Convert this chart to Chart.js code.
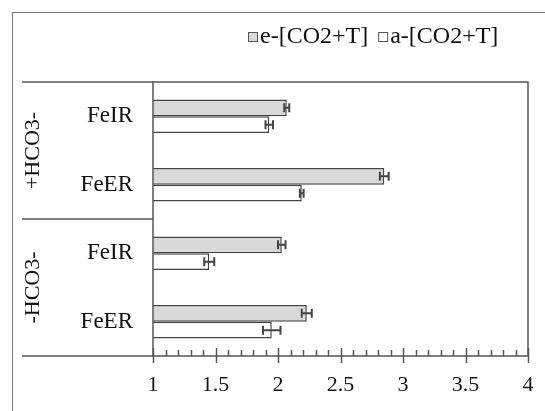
<!DOCTYPE html>
<html>
<head>
<meta charset="utf-8">
<script src="https://cdn.jsdelivr.net/npm/chart.js@4/dist/chart.umd.min.js"></script>
<style>
  html, body { margin: 0; padding: 0; background: #fff; }
  #wrap { width: 545px; height: 411px; }
</style>
</head>
<body>
<div id="wrap"><canvas id="myChart" width="545" height="411"></canvas></div>
<script>
  'use strict'

  // data
  const categories = ['FeIR', 'FeER', 'FeIR', 'FeER']
  const groups = ['+HCO3-', '-HCO3-']
  const seriesNames = ['e-[CO2+T]', 'a-[CO2+T]']
  const eValues = [2.07, 2.85, 2.03, 2.23]
  const eErrors = [0.02, 0.035, 0.03, 0.04]
  const aValues = [1.93, 2.19, 1.45, 1.95]
  const aErrors = [0.03, 0.015, 0.04, 0.07]
  const xTicks = [1, 1.5, 2, 2.5, 3, 3.5, 4]

  const lineColor = '#555'
  const serif = '"Liberation Serif", "Times New Roman", serif'

  // frame, axis ticks, group labels, legend, error bars
  const decor = {
    id: 'decor',
    beforeDraw (chart) {
      const c = chart.ctx
      c.save()
      c.strokeStyle = '#777'
      c.lineWidth = 1
      c.strokeRect(12.5, 12.5, 700, 700)
      c.restore()
    },
    afterDatasetsDraw (chart) {
      const c = chart.ctx
      const area = chart.chartArea
      const xs = chart.scales.x
      const ys = chart.scales.y

      // error bars
      c.save()
      c.strokeStyle = '#444'
      c.lineWidth = 2
      const errs = [eErrors, aErrors]
      chart.data.datasets.forEach((ds, di) => {
        const meta = chart.getDatasetMeta(di)
        meta.data.forEach((bar, i) => {
          const v = ds.data[i]
          const e = errs[di][i]
          const x0 = xs.getPixelForValue(v - e)
          const x1 = xs.getPixelForValue(v + e)
          const y = bar.y
          const h = 4.5
          c.beginPath()
          c.moveTo(x0, y); c.lineTo(x1, y)
          c.moveTo(x0, y - h); c.lineTo(x0, y + h)
          c.moveTo(x1, y - h); c.lineTo(x1, y + h)
          c.stroke()
        })
      })
      c.restore()

      // plot frame + group divider lines
      c.save()
      c.strokeStyle = lineColor
      c.lineWidth = 1.5
      c.strokeRect(area.left, area.top, area.right - area.left, area.bottom - area.top)
      const mid = (ys.getPixelForTick(1) + ys.getPixelForTick(2)) / 2
      c.beginPath()
      for (const y of [area.top, mid, area.bottom]) {
        c.moveTo(22, y); c.lineTo(area.left, y)
      }
      c.stroke()

      // x ticks
      c.lineWidth = 1.5
      c.beginPath()
      for (let k = 0; k <= 30; k++) {
        const v = 1 + k * 0.1
        const x = Math.round(xs.getPixelForValue(v)) + 0.5
        if (k % 5 === 0) {
          c.moveTo(x, area.bottom - 8); c.lineTo(x, area.bottom + 7)
        } else {
          c.moveTo(x, area.bottom - 6); c.lineTo(x, area.bottom)
        }
      }
      c.stroke()

      // group labels
      c.fillStyle = '#111'
      c.font = '22px ' + serif
      c.textAlign = 'center'
      c.textBaseline = 'middle'
      const gy = [(area.top + mid) / 2, (mid + area.bottom) / 2]
      groups.forEach((g, i) => {
        c.save()
        c.translate(33, gy[i])
        c.rotate(-Math.PI / 2)
        c.fillText(g, 0, 0)
        c.restore()
      })

      // legend
      c.font = '24px ' + serif
      c.textAlign = 'left'
      let lx = 248
      const ly = 37
      chart.data.datasets.forEach((ds) => {
        c.fillStyle = ds.backgroundColor
        c.fillRect(lx, ly - 5, 10, 10)
        c.strokeStyle = lineColor
        c.lineWidth = 1
        c.strokeRect(lx + 0.5, ly - 4.5, 9, 9)
        c.fillStyle = '#111'
        c.fillText(ds.label, lx + 12, ly)
        lx += 12 + c.measureText(ds.label).width + 10
      })
      c.restore()
    }
  }

  const ctx = document.getElementById('myChart')
  // eslint-disable-next-line no-unused-vars
  const myChart = new Chart(ctx, {
    type: 'bar',
    data: {
      labels: categories,
      datasets: [{
        label: seriesNames[0],
        data: eValues,
        backgroundColor: '#d9d9d9',
        borderColor: '#444',
        borderWidth: 1.5,
        borderSkipped: false
      }, {
        label: seriesNames[1],
        data: aValues,
        backgroundColor: '#ffffff',
        borderColor: '#444',
        borderWidth: 1.5,
        borderSkipped: false
      }]
    },
    options: {
      indexAxis: 'y',
      responsive: false,
      animation: false,
      events: [],
      layout: {
        padding: { top: 82, left: 22, right: 17, bottom: 0 }
      },
      datasets: {
        bar: { categoryPercentage: 0.49, barPercentage: 1 }
      },
      scales: {
        x: {
          type: 'linear',
          min: 1,
          max: 4,
          afterBuildTicks: (scale) => { scale.ticks = xTicks.map(v => ({ value: v })) },
          afterFit: (scale) => {
            scale.height = 55
            scale.paddingLeft = 0
            scale.paddingRight = 0
          },
          grid: { display: false, drawTicks: false },
          border: { display: false },
          ticks: {
            padding: 16,
            color: '#111',
            font: { family: serif, size: 22 },
            callback: (v) => String(v)
          }
        },
        y: {
          type: 'category',
          afterFit: (scale) => { scale.width = 131 },
          grid: { display: false, drawTicks: false },
          border: { display: false },
          ticks: {
            padding: 20,
            color: '#111',
            font: { family: serif, size: 23 }
          }
        }
      },
      plugins: {
        legend: { display: false },
        tooltip: { enabled: false }
      }
    },
    plugins: [decor]
  })
</script>
</body>
</html>
